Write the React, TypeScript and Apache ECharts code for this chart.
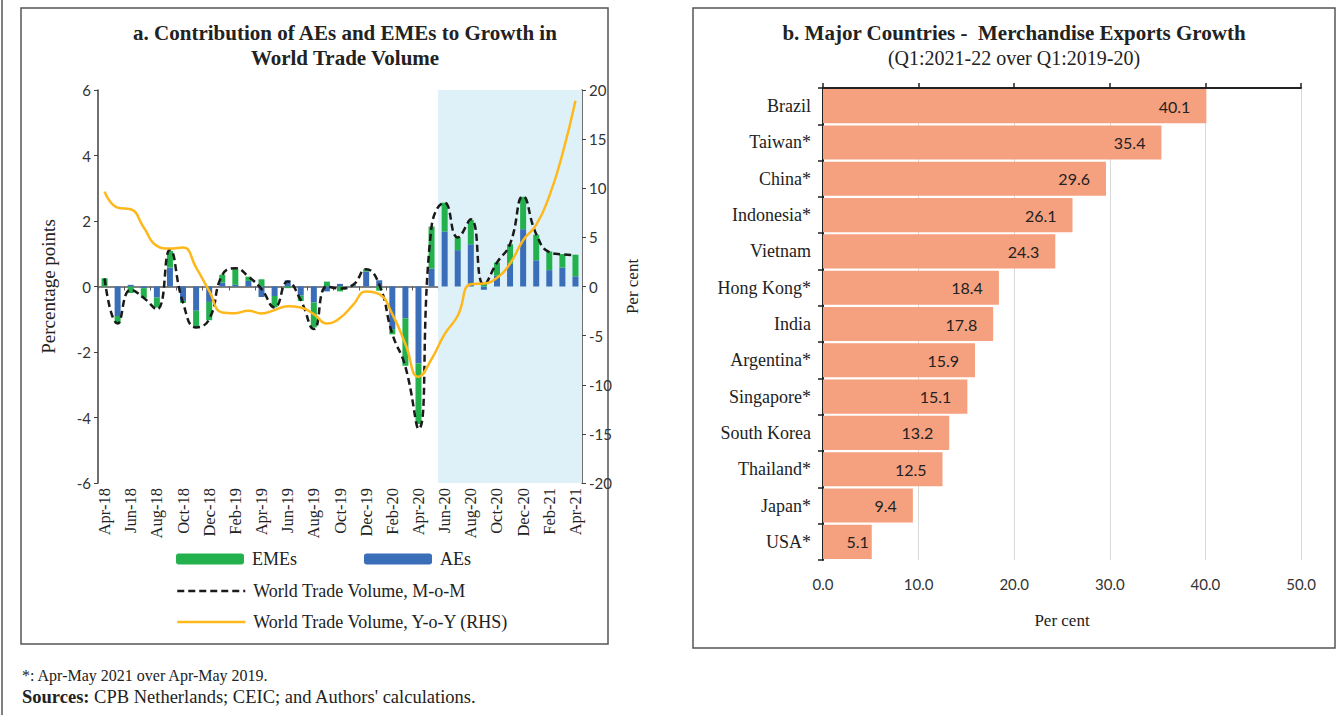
import React, { useEffect, useRef } from "react";
import * as echarts from "echarts";

const months = [
  "Apr-18", "May-18", "Jun-18", "Jul-18", "Aug-18", "Sep-18", "Oct-18", "Nov-18", "Dec-18",
  "Jan-19", "Feb-19", "Mar-19", "Apr-19", "May-19", "Jun-19", "Jul-19", "Aug-19", "Sep-19",
  "Oct-19", "Nov-19", "Dec-19", "Jan-20", "Feb-20", "Mar-20", "Apr-20", "May-20", "Jun-20",
  "Jul-20", "Aug-20", "Sep-20", "Oct-20", "Nov-20", "Dec-20", "Jan-21", "Feb-21", "Mar-21", "Apr-21",
];
const aes = [
  0.0, -0.9, 0.05, -0.05, -0.34, 0.58, -0.44, -0.74, -0.47,
  0.12, 0.05, 0.17, -0.32, -0.29, 0.19, -0.28, -0.49, -0.15,
  0.08, 0.03, 0.46, 0.19, -1.3, -0.97, -2.35, 0.55, 1.68,
  1.11, 1.29, -0.1, 0.33, 0.7, 1.75, 0.8, 0.5, 0.58, 0.31,
];
const emes = [
  0.25, -0.23, -0.2, -0.3, -0.3, 0.51, -0.06, -0.51, -0.56,
  0.24, 0.48, 0.13, 0.22, -0.35, -0.05, -0.16, -0.76, 0.15,
  -0.15, 0.02, 0.07, -0.13, -0.16, -1.45, -1.85, 1.28, 0.88,
  0.39, 0.74, 0.12, 0.4, 0.59, 0.99, 0.78, 0.57, 0.41, 0.66,
];
const momLine = [
  0.25, -1.13, -0.1, -0.35, -0.7, 1.12, -0.5, -1.25, -1.0,
  0.35, 0.56, 0.3, -0.08, -0.64, 0.15, -0.42, -1.3, 0.0,
  -0.06, 0.05, 0.53, 0.06, -1.45, -2.45, -4.35, 1.83, 2.56,
  1.5, 2.05, 0.05, 0.73, 1.3, 2.75, 1.6, 1.05, 0.98, 0.96,
];
const yoyLine = [
  9.66, 8.03, 7.86, 6.0, 4.14, 3.86, 3.97, 1.93, -0.44,
  -2.64, -2.71, -2.47, -2.75, -2.4, -2.0, -2.14, -2.81, -3.76,
  -3.2, -1.86, -0.5, -0.78, -2.81, -5.86, -9.19, -7.39, -4.85,
  -2.98, 0.24, 0.3, 0.9, 2.34, 4.71, 6.27, 9.2, 13.46, 18.9,
];
const shadeFrom = "Jun-20";
const leftAxisRange = [-6, 6, 2];
const rightAxisRange = [-20, 20, 5];

const countries = [
  "Brazil", "Taiwan*", "China*", "Indonesia*", "Vietnam", "Hong Kong*", "India",
  "Argentina*", "Singapore*", "South Korea", "Thailand*", "Japan*", "USA*",
];
const growth = [40.1, 35.4, 29.6, 26.1, 24.3, 18.4, 17.8, 15.9, 15.1, 13.2, 12.5, 9.4, 5.1];
const growthAxisRange = [0, 50, 10];

const SERIF = "'Liberation Serif', 'DejaVu Serif', serif";
const NUM = "Lato, 'Liberation Sans', sans-serif";

const GREEN = "#22B14C";
const BLUE = "#3B6EB8";
const YELLOW = "#FFB81C";
const SALMON = "#F5A07F";

export default function App() {
  const ref = useRef<HTMLDivElement>(null);
  useEffect(() => {
    if (!ref.current) return;
    const chart = echarts.init(ref.current, null, { renderer: "svg" });
    const shadeIdx = months.indexOf(shadeFrom);
    const legendText = { fontFamily: SERIF, fontSize: 18, color: "#222", padding: [0, 0, 0, 3] };
    const legendBase = { padding: 0, itemWidth: 68, textStyle: legendText, selectedMode: false };
    const option: any = {
      animation: false,
      backgroundColor: "#fff",
      textStyle: { fontFamily: SERIF },
      grid: [
        { left: 98, top: 90, width: 484, height: 393 },
        { left: 823, top: 88, width: 478, height: 472 },
      ],
      legend: [
        { ...legendBase, data: ["EMEs"], left: 176, top: 550, itemHeight: 11 },
        { ...legendBase, data: ["AEs"], left: 364, top: 550, itemHeight: 11 },
        { ...legendBase, data: ["World Trade Volume, M-o-M"], left: 176, top: 582, itemHeight: 14, itemStyle: { opacity: 0 }, lineStyle: { width: 2.5 } },
        { ...legendBase, data: ["World Trade Volume, Y-o-Y (RHS)"], left: 176, top: 613, itemHeight: 14, itemStyle: { opacity: 0 }, lineStyle: { width: 2.5 } },
      ],
      xAxis: [
        {
          type: "category", gridIndex: 0, data: months, position: "bottom",
          axisLine: { onZero: true, lineStyle: { color: "#595959", width: 1.5 } },
          axisTick: { show: true, interval: 1, length: 4, lineStyle: { color: "#595959" } },
          axisLabel: { show: false },
          splitLine: { show: false },
        },
        {
          type: "category", gridIndex: 0, data: months, position: "bottom",
          axisLine: { show: false, onZero: false },
          axisTick: { show: false },
          axisLabel: { rotate: 90, interval: 1, margin: 5, fontFamily: SERIF, fontSize: 16.5, color: "#222" },
        },
        {
          type: "value", gridIndex: 0, min: 0, max: months.length, show: false,
        },
        {
          type: "value", gridIndex: 1, min: growthAxisRange[0], max: growthAxisRange[1], interval: growthAxisRange[2],
          position: "bottom",
          axisLine: { show: false }, axisTick: { show: false },
          axisLabel: { margin: 16, fontFamily: NUM, fontSize: 15, color: "#333", formatter: (v: number) => v.toFixed(1) },
          splitLine: { show: true, lineStyle: { color: "#d9d9d9", width: 1 } },
          name: "Per cent", nameLocation: "middle", nameGap: 52,
          nameTextStyle: { fontFamily: SERIF, fontSize: 17, color: "#222" },
        },
        {
          type: "value", gridIndex: 1, min: growthAxisRange[0], max: growthAxisRange[1], interval: growthAxisRange[2],
          position: "top",
          axisLine: { show: true, lineStyle: { color: "#222", width: 2 } },
          axisTick: { show: true, length: 5, lineStyle: { color: "#222", width: 1.5 } },
          axisLabel: { show: false },
          splitLine: { show: false },
        },
      ],
      yAxis: [
        {
          type: "value", gridIndex: 0, min: leftAxisRange[0], max: leftAxisRange[1], interval: leftAxisRange[2],
          position: "left",
          axisLine: { show: true, lineStyle: { color: "#404040", width: 1.5 } },
          axisTick: { show: true, length: 4, lineStyle: { color: "#404040" } },
          axisLabel: { margin: 7, fontFamily: NUM, fontSize: 15, color: "#333" },
          splitLine: { show: false },
          name: "Percentage points", nameLocation: "middle", nameGap: 40, nameRotate: 90,
          nameTextStyle: { fontFamily: SERIF, fontSize: 19, color: "#222" },
        },
        {
          type: "value", gridIndex: 0, min: rightAxisRange[0], max: rightAxisRange[1], interval: rightAxisRange[2],
          position: "right",
          axisLine: { show: true, lineStyle: { color: "#404040", width: 1.5 } },
          axisTick: { show: true, length: 4, lineStyle: { color: "#404040" } },
          axisLabel: { margin: 7, fontFamily: NUM, fontSize: 15, color: "#333" },
          splitLine: { show: false },
          name: "Per cent", nameLocation: "middle", nameGap: 42, nameRotate: 90,
          nameTextStyle: { fontFamily: SERIF, fontSize: 17, color: "#222" },
        },
        {
          type: "category", gridIndex: 1, data: countries, inverse: true,
          axisLine: { show: true, lineStyle: { color: "#222", width: 2 } },
          axisTick: { show: true, length: 5, lineStyle: { color: "#222", width: 1.5 } },
          axisLabel: { margin: 12, fontFamily: SERIF, fontSize: 18, color: "#222" },
        },
      ],
      series: [
        {
          name: "shade", type: "line", xAxisIndex: 2, yAxisIndex: 0, z: 0,
          data: [[shadeIdx, 0], [months.length, 0]], symbol: "none", silent: true,
          lineStyle: { opacity: 0 },
          markArea: {
            silent: true,
            itemStyle: { color: "#DEF1F9" },
            data: [[{ xAxis: shadeIdx }, { xAxis: months.length }]],
          },
        },
        {
          name: "AEs", type: "bar", stack: "c", xAxisIndex: 0, yAxisIndex: 0, barWidth: 6, z: 2,
          itemStyle: { color: BLUE }, data: aes,
        },
        {
          name: "EMEs", type: "bar", stack: "c", xAxisIndex: 0, yAxisIndex: 0, barWidth: 6, z: 2,
          itemStyle: { color: GREEN }, data: emes,
        },
        {
          name: "World Trade Volume, M-o-M", type: "line", xAxisIndex: 0, yAxisIndex: 0, z: 3,
          smooth: 0.5, symbol: "none", data: momLine,
          lineStyle: { color: "#1a1a1a", width: 2.5, type: [7, 4] },
          itemStyle: { color: "#1a1a1a" },
        },
        {
          name: "World Trade Volume, Y-o-Y (RHS)", type: "line", xAxisIndex: 0, yAxisIndex: 1, z: 4,
          smooth: 0.5, symbol: "none", data: yoyLine,
          lineStyle: { color: YELLOW, width: 2.5 },
          itemStyle: { color: YELLOW },
        },
        {
          name: "Exports growth", type: "bar", xAxisIndex: 3, yAxisIndex: 2, barCategoryGap: "6%",
          itemStyle: { color: SALMON },
          data: growth.map((v) => ({
            value: v,
            label: { distance: v < 6 ? 3 : 16 },
          })),
          label: {
            show: true, position: "insideRight", distance: 16,
            fontFamily: NUM, fontSize: 16, color: "#222",
            formatter: (p: any) => Number(p.value).toFixed(1),
          },
        },
      ],
      graphic: [
        { type: "line", shape: { x1: 2, y1: 0, x2: 2, y2: 715 }, style: { stroke: "#555", lineWidth: 1.5 } },
        { type: "rect", shape: { x: 21, y: 8, width: 587, height: 636 }, style: { fill: "none", stroke: "#555", lineWidth: 1.5 }, z: -1 },
        { type: "rect", shape: { x: 693, y: 8, width: 642, height: 640 }, style: { fill: "none", stroke: "#555", lineWidth: 1.5 }, z: -1 },
        {
          type: "text", x: 345, y: 33,
          style: { text: "a. Contribution of AEs and EMEs to Growth in", fontFamily: SERIF, fontSize: 21, fontWeight: "bold", fill: "#222", align: "center", verticalAlign: "middle" },
        },
        {
          type: "text", x: 345, y: 58,
          style: { text: "World Trade Volume", fontFamily: SERIF, fontSize: 21, fontWeight: "bold", fill: "#222", align: "center", verticalAlign: "middle" },
        },
        {
          type: "text", x: 1014, y: 33,
          style: { text: "b. Major Countries -  Merchandise Exports Growth", fontFamily: SERIF, fontSize: 21, fontWeight: "bold", fill: "#222", align: "center", verticalAlign: "middle" },
        },
        {
          type: "text", x: 1014, y: 58,
          style: { text: "(Q1:2021-22 over Q1:2019-20)", fontFamily: SERIF, fontSize: 20, fill: "#222", align: "center", verticalAlign: "middle" },
        },
        {
          type: "text", x: 22, y: 675,
          style: { text: "*: Apr-May 2021 over Apr-May 2019.", fontFamily: SERIF, fontSize: 16, fill: "#222", align: "left", verticalAlign: "middle" },
        },
        {
          type: "text", x: 22, y: 697,
          style: {
            text: "{b|Sources:} CPB Netherlands; CEIC; and Authors' calculations.",
            fontFamily: SERIF, fontSize: 18.5, fill: "#222", align: "left", verticalAlign: "middle",
            rich: { b: { fontFamily: SERIF, fontSize: 18.5, fontWeight: "bold", fill: "#222" } },
          },
        },
      ],
    };
    chart.setOption(option);
    return () => chart.dispose();
  }, []);
  return (
    <div
      ref={ref}
      style={{ position: "fixed", left: 0, top: 0, width: 1336, height: 715, background: "#fff" }}
    />
  );
}
